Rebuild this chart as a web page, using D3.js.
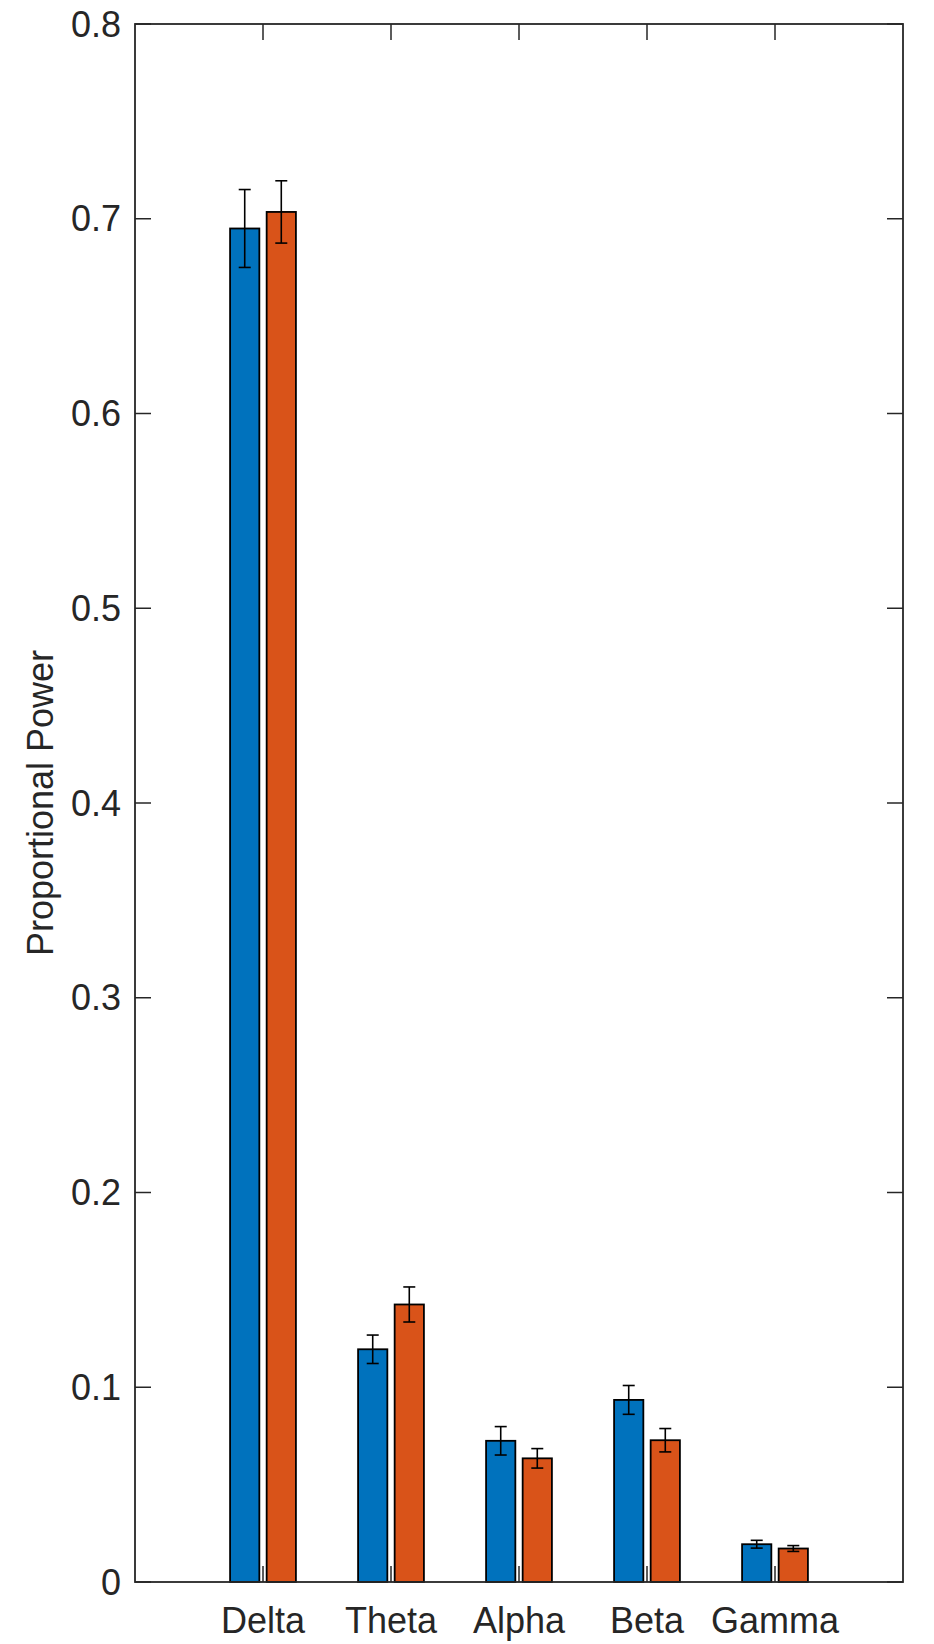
<!DOCTYPE html>
<meta charset="utf-8">
<script src="https://d3js.org/d3.v7.min.js"></script>
<style>
  body { margin: 0; background: #fff; }
  text { font-family: "Liberation Sans", Arial, sans-serif; fill: #262626; }
</style>
<div id="chart"></div>
<script>
// band names and the two groups (mean and error)
var categories = ["Delta", "Theta", "Alpha", "Beta", "Gamma"];
var groupA = [0.695, 0.1195, 0.0725, 0.0935, 0.0194];
var groupB = [0.7035, 0.1425, 0.0635, 0.0728, 0.0172];
var errA = [0.020, 0.0073, 0.0073, 0.0074, 0.0020];
var errB = [0.016, 0.0090, 0.0050, 0.0060, 0.0015];
var yTicks = [0, 0.1, 0.2, 0.3, 0.4, 0.5, 0.6, 0.7, 0.8];
var yTickLabels = ["0", "0.1", "0.2", "0.3", "0.4", "0.5", "0.6", "0.7", "0.8"];

var W = 934, H = 1644;
var margin = {top: 24, right: 31, bottom: 62, left: 135};
var width = W - margin.left - margin.right,
    height = H - margin.top - margin.bottom;

var svg = d3.select("#chart").append("svg")
    .attr("width", W).attr("height", H)
  .append("g")
    .attr("transform", "translate(" + margin.left + "," + margin.top + ")");

var x = d3.scaleLinear().domain([0, categories.length + 1]).range([0, width]);
var y = d3.scaleLinear().domain([0, 0.8]).range([height, 0]);

var axisColor = "#262626", tickLen = 16;
var groupWidth = Math.min(0.8, 2 / (2 + 1.5));
var barW = groupWidth / 2 * 0.8;
var offsets = [-groupWidth / 4, groupWidth / 4];
var colors = ["#0072BD", "#D95319"];

// ticks (drawn first so bars sit above them)
var ticks = svg.append("g").attr("stroke", axisColor).attr("stroke-width", 1.5);
categories.forEach(function(c, i) {
  var xx = x(i + 1);
  ticks.append("line").attr("x1", xx).attr("x2", xx).attr("y1", height).attr("y2", height - tickLen);
  ticks.append("line").attr("x1", xx).attr("x2", xx).attr("y1", 0).attr("y2", tickLen);
});
yTicks.forEach(function(t) {
  ticks.append("line").attr("x1", 0).attr("x2", tickLen).attr("y1", y(t)).attr("y2", y(t));
  ticks.append("line").attr("x1", width).attr("x2", width - tickLen).attr("y1", y(t)).attr("y2", y(t));
});

// bars
[groupA, groupB].forEach(function(vals, g) {
  svg.append("g").selectAll("rect")
    .data(vals)
    .join("rect")
      .attr("x", function(d, i) { return x(i + 1 + offsets[g] - barW / 2); })
      .attr("width", x(barW) - x(0))
      .attr("y", function(d) { return y(d); })
      .attr("height", function(d) { return y(0) - y(d); })
      .attr("fill", colors[g])
      .attr("stroke", "#000")
      .attr("stroke-width", 1.8);
});

// error bars
var cap = 6;
[[groupA, errA], [groupB, errB]].forEach(function(pair, g) {
  var eg = svg.append("g").attr("stroke", "#000").attr("stroke-width", 1.6);
  pair[0].forEach(function(v, i) {
    var cx = x(i + 1 + offsets[g]);
    var lo = y(v - pair[1][i]), hi = y(v + pair[1][i]);
    eg.append("line").attr("x1", cx).attr("x2", cx).attr("y1", lo).attr("y2", hi);
    eg.append("line").attr("x1", cx - cap).attr("x2", cx + cap).attr("y1", lo).attr("y2", lo);
    eg.append("line").attr("x1", cx - cap).attr("x2", cx + cap).attr("y1", hi).attr("y2", hi);
  });
});

// box
svg.append("rect")
  .attr("x", 0).attr("y", 0).attr("width", width).attr("height", height)
  .attr("fill", "none").attr("stroke", axisColor).attr("stroke-width", 1.8);

// tick labels
svg.append("g").selectAll("text")
  .data(yTicks)
  .join("text")
    .attr("x", -14)
    .attr("y", function(d) { return y(d); })
    .attr("dy", "0.35em")
    .attr("text-anchor", "end")
    .attr("font-size", 36)
    .text(function(d, i) { return yTickLabels[i]; });

svg.append("g").selectAll("text")
  .data(categories)
  .join("text")
    .attr("x", function(d, i) { return x(i + 1); })
    .attr("y", height + 51)
    .attr("text-anchor", "middle")
    .attr("font-size", 36)
    .text(function(d) { return d; });

// y axis title
svg.append("text")
  .attr("transform", "translate(" + (53 - margin.left) + "," + (height / 2) + ") rotate(-90)")
  .attr("text-anchor", "middle")
  .attr("font-size", 36)
  .text("Proportional Power");
</script>
